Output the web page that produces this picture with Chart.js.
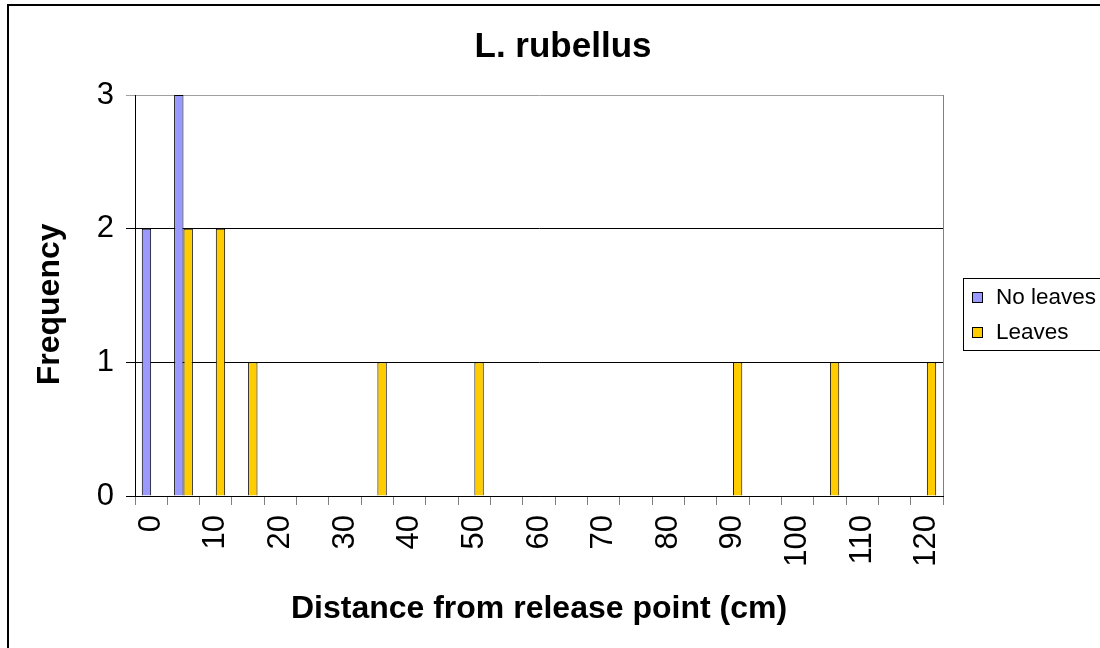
<!DOCTYPE html>
<html>
<head>
<meta charset="utf-8">
<title>L. rubellus</title>
<script src="https://cdn.jsdelivr.net/npm/chart.js@4.4.1/dist/chart.umd.min.js"></script>
<style>
  body { margin: 0; background: #fff; }
  canvas { display: block; }
</style>
</head>
<body>
<canvas id="grafico" width="1100" height="648"></canvas>
<script>
// distanze (cm), una categoria ogni 5 cm
var distanze = ["0", "5", "10", "15", "20", "25", "30", "35", "40", "45", "50", "55", "60",
                "65", "70", "75", "80", "85", "90", "95", "100", "105", "110", "115", "120"];

var noLeaves = [2, 3, 0, 0, 0, 0, 0, 0, 0, 0, 0, 0, 0, 0, 0, 0, 0, 0, 0, 0, 0, 0, 0, 0, 0];
var leaves   = [0, 2, 2, 1, 0, 0, 0, 1, 0, 0, 1, 0, 0, 0, 0, 0, 0, 0, 1, 0, 0, 1, 0, 0, 1];

var yTicks = [0, 1, 2, 3];

var fontName = "'Liberation Sans', Arial, sans-serif";

// cornice esterna, bordo area grafico e legenda col riquadro
var cornice = {
    id: "cornice",
    beforeDraw: function (chart) {
        var ctx = chart.ctx;
        ctx.save();
        ctx.fillStyle = "#fff";
        ctx.fillRect(0, 0, chart.width, chart.height);
        ctx.restore();
    },
    afterDraw: function (chart) {
        var ctx = chart.ctx;
        var area = chart.chartArea;
        ctx.save();
        // bordo esterno
        ctx.strokeStyle = "#000";
        ctx.lineWidth = 2;
        ctx.beginPath();
        ctx.moveTo(8, chart.height);
        ctx.lineTo(8, 5);
        ctx.lineTo(chart.width, 5);
        ctx.stroke();

        // bordo destro dell'area
        ctx.strokeStyle = "#808080";
        ctx.lineWidth = 1;
        ctx.beginPath();
        ctx.moveTo(Math.round(area.right) + 0.5, area.top);
        ctx.lineTo(Math.round(area.right) + 0.5, area.bottom);
        ctx.stroke();

        // legenda
        ctx.strokeStyle = "#000";
        ctx.strokeRect(963.5, 278.5, 160, 72);
        var righe = [298, 333];
        chart.data.datasets.forEach(function (ds, i) {
            ctx.fillStyle = ds.backgroundColor;
            ctx.fillRect(972, righe[i] - 6, 11, 11);
            ctx.strokeStyle = "#000";
            ctx.strokeRect(972.5, righe[i] - 5.5, 10, 10);
            ctx.fillStyle = "#000";
            ctx.font = "22.5px " + fontName;
            ctx.textBaseline = "middle";
            ctx.textAlign = "left";
            ctx.fillText(ds.label, 996, righe[i]);
        });
        ctx.restore();
    }
};

var ctx = document.getElementById("grafico");
var grafico = new Chart(ctx, {
    type: "bar",
    data: {
        labels: distanze,
        datasets: [{
            label: "No leaves",
            backgroundColor: "#9999FF",
            borderColor: "#000",
            borderWidth: 1,
            data: noLeaves,
            yAxisID: "y"
        }, {
            label: "Leaves",
            backgroundColor: "#FFCC00",
            borderColor: "#000",
            borderWidth: 1,
            data: leaves,
            yAxisID: "y"
        }]
    },
    options: {
        responsive: false,
        animation: false,
        devicePixelRatio: 1,
        categoryPercentage: 0.58,
        barPercentage: 1,
        layout: { padding: { left: 26, right: 0, top: 0, bottom: 0 } },
        plugins: {
            legend: { display: false },
            tooltip: { enabled: false },
            title: {
                display: true,
                text: "L. rubellus",
                color: "#000",
                font: { family: fontName, size: 35, weight: "bold", lineHeight: 1.2 },
                padding: { top: 26, bottom: 27 }
            }
        },
        scales: {
            x: {
                grid: {
                    display: true,
                    offset: true,
                    drawOnChartArea: false,
                    tickLength: 9,
                    color: "#808080"
                },
                border: { display: true, color: "#000", width: 1 },
                ticks: {
                    autoSkip: false,
                    minRotation: 90,
                    maxRotation: 90,
                    padding: 10,
                    color: "#000",
                    font: { family: fontName, size: 31 },
                    callback: function (val, i) {
                        return i % 2 === 0 ? distanze[i] : "";
                    }
                },
                title: {
                    display: true,
                    text: "Distance from release point (cm)",
                    color: "#000",
                    font: { family: fontName, size: 32, weight: "bold", lineHeight: 1.2 },
                    padding: { top: 0, bottom: 20 }
                },
                afterFit: function (scale) { scale.height = 152; }
            },
            y: {
                min: 0,
                max: 3,
                afterBuildTicks: function (scale) {
                    scale.ticks = yTicks.map(function (v) { return { value: v }; });
                },
                grid: {
                    tickLength: 9,
                    color: function (c) {
                        return c.tick && c.tick.value === 3 ? "#a0a0a0" : "#000";
                    }
                },
                border: { display: true, color: "#000", width: 1 },
                ticks: {
                    padding: 12,
                    color: "#000",
                    font: { family: fontName, size: 31 }
                },
                title: {
                    display: true,
                    // gli spazi finali spostano un po' in basso il titolo, come nell'originale
                    text: "Frequency  ",
                    color: "#000",
                    font: { family: fontName, size: 32, weight: "bold", lineHeight: 1.2 },
                    padding: { top: 5, bottom: 0 }
                },
                afterFit: function (scale) { scale.width = 109; }
            },
            y2: {
                position: "right",
                display: true,
                grid: { display: false },
                ticks: { display: false },
                border: { display: false },
                afterFit: function (scale) { scale.width = 157; }
            }
        }
    },
    plugins: [cornice]
});
</script>
</body>
</html>
